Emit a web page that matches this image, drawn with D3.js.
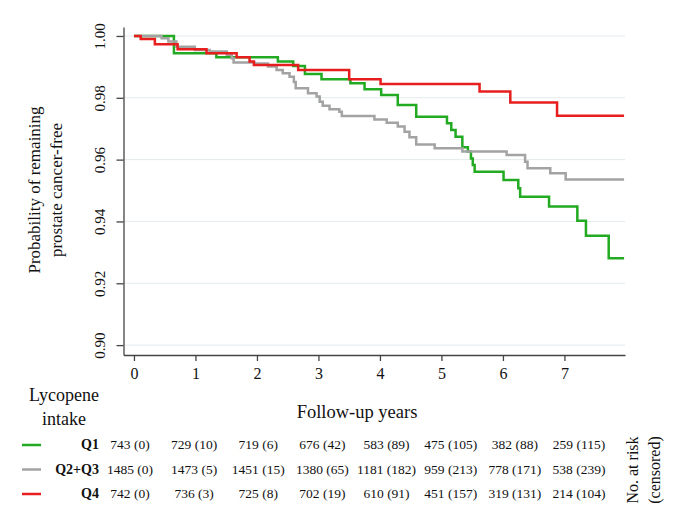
<!DOCTYPE html>
<html>
<head>
<meta charset="utf-8">
<script src="https://cdn.jsdelivr.net/npm/d3@7"></script>
<style>
body{margin:0;background:#fff;}
text{font-family:"Liberation Serif","Times New Roman",serif;fill:#111;}
</style>
</head>
<body>
<div id="chart"></div>
<script>
// Kaplan-Meier steps (years, survival)
const q1Time = [0, 0.65, 1.34, 2.34, 2.59, 2.78, 3.05, 3.52, 3.75, 4.02, 4.29, 4.59, 5.09, 5.16, 5.23, 5.34, 5.43, 5.48, 5.51, 5.54, 6.01, 6.25, 6.28, 6.75, 7.21, 7.35, 7.72, 7.97];
const q1Surv = [1.0, 0.9944, 0.9931, 0.9917, 0.9903, 0.9877, 0.9860, 0.9847, 0.9828, 0.9809, 0.9777, 0.9739, 0.9718, 0.9696, 0.9674, 0.9640, 0.9626, 0.9604, 0.9583, 0.9561, 0.9534, 0.9507, 0.9480, 0.9448, 0.9402, 0.9354, 0.9281, 0.9281];

const q23Time = [0, 0.45, 0.56, 0.69, 0.99, 1.23, 1.51, 1.59, 1.62, 1.96, 2.18, 2.32, 2.42, 2.53, 2.60, 2.63, 2.83, 2.97, 3.02, 3.07, 3.18, 3.34, 3.38, 3.91, 4.11, 4.29, 4.40, 4.48, 4.59, 4.89, 5.34, 6.06, 6.36, 6.40, 6.77, 7.02, 7.97];
const q23Surv = [1.0, 0.9993, 0.9982, 0.9965, 0.9955, 0.9950, 0.9939, 0.9928, 0.9914, 0.9911, 0.9901, 0.9890, 0.9879, 0.9868, 0.9851, 0.9831, 0.9815, 0.9804, 0.9787, 0.9774, 0.9763, 0.9755, 0.9741, 0.9730, 0.9719, 0.9707, 0.9690, 0.9672, 0.9649, 0.9637, 0.9626, 0.9615, 0.9593, 0.9572, 0.9556, 0.9536, 0.9536];

const q4Time = [0, 0.11, 0.34, 0.71, 1.18, 1.67, 1.88, 1.95, 2.67, 3.50, 4.01, 5.62, 6.12, 6.88, 7.97];
const q4Surv = [1.0, 0.9990, 0.9973, 0.9957, 0.9944, 0.9931, 0.9917, 0.9906, 0.9890, 0.9860, 0.9845, 0.9820, 0.9785, 0.9742, 0.9742];

const groups = ["Q1", "Q2+Q3", "Q4"];
const colors = ["#22aa22", "#a3a3a3", "#e61e1e"];
const yTicks = [0.90, 0.92, 0.94, 0.96, 0.98, 1.00];
const xTicks = [0, 1, 2, 3, 4, 5, 6, 7];

// numbers at risk (censored) per year
const q1Risk = ["743 (0)", "729 (10)", "719 (6)", "676 (42)", "583 (89)", "475 (105)", "382 (88)", "259 (115)"];
const q23Risk = ["1485 (0)", "1473 (5)", "1451 (15)", "1380 (65)", "1181 (182)", "959 (213)", "778 (171)", "538 (239)"];
const q4Risk = ["742 (0)", "736 (3)", "725 (8)", "702 (19)", "610 (91)", "451 (157)", "319 (131)", "214 (104)"];

const width = 680, height = 516;

const svg = d3.select("#chart").append("svg")
  .attr("width", width)
  .attr("height", height);

const x = d3.scaleLinear().domain([-0.17, 7.985]).range([123.5, 625]);
const y = d3.scaleLinear().domain([0.8968, 1.0029]).range([355, 27]);

// grid
svg.append("g")
  .selectAll("line")
  .data(yTicks)
  .join("line")
  .attr("x1", x.range()[0])
  .attr("x2", x.range()[1])
  .attr("y1", d => y(d))
  .attr("y2", d => y(d))
  .attr("stroke", "#e4eaee")
  .attr("stroke-width", 1);

const yAxis = svg.append("g")
  .attr("transform", `translate(${x.range()[0]},0)`)
  .call(d3.axisLeft(y).tickValues(yTicks).tickFormat(d3.format(".2f")).tickSize(7).tickSizeOuter(0));

yAxis.selectAll("text")
  .attr("x", 0)
  .attr("y", -19)
  .attr("dy", 0)
  .attr("transform", "rotate(-90)")
  .attr("text-anchor", "middle")
  .style("font-size", "15px");

const xAxis = svg.append("g")
  .attr("transform", `translate(0,${y.range()[0]})`)
  .call(d3.axisBottom(x).tickValues(xTicks).tickFormat(d3.format("d")).tickSize(6).tickSizeOuter(0));

xAxis.selectAll("text")
  .attr("y", 24)
  .attr("dy", 0)
  .style("font-size", "16px");

svg.selectAll(".domain, .tick line").attr("stroke", "#444").attr("stroke-width", 1.3);
svg.selectAll(".tick text").attr("fill", "#111").style("font-family", "Liberation Serif");

// curves
const curves = [
  q1Time.map((t, i) => ({t: t, s: q1Surv[i]})),
  q23Time.map((t, i) => ({t: t, s: q23Surv[i]})),
  q4Time.map((t, i) => ({t: t, s: q4Surv[i]}))
];

const line = d3.line()
  .x(d => x(d.t))
  .y(d => y(d.s))
  .curve(d3.curveStepAfter);

svg.append("g")
  .selectAll("path")
  .data(curves)
  .join("path")
  .attr("d", line)
  .attr("fill", "none")
  .attr("stroke", (d, i) => colors[i])
  .attr("stroke-width", 2.5);

// axis titles
const yTitle = svg.append("text")
  .attr("transform", "translate(40,190) rotate(-90)")
  .attr("text-anchor", "middle")
  .style("font-size", "17px");
yTitle.append("tspan").attr("x", 0).attr("y", 0).text("Probability of remaining");
yTitle.append("tspan").attr("x", 0).attr("y", 22).text("prostate cancer-free");

svg.append("text")
  .attr("x", 357)
  .attr("y", 418)
  .attr("text-anchor", "middle")
  .style("font-size", "18.5px")
  .text("Follow-up years");

svg.append("text")
  .attr("x", 64)
  .attr("y", 401)
  .attr("text-anchor", "middle")
  .style("font-size", "18px")
  .text("Lycopene");

svg.append("text")
  .attr("x", 64)
  .attr("y", 425)
  .attr("text-anchor", "middle")
  .style("font-size", "18px")
  .text("intake");

// risk table
const colX = d3.scaleLinear().domain([0, 7]).range([130, 579]);
const rowY = d3.scalePoint().domain(groups).range([445, 494]);
const riskRows = [q1Risk, q23Risk, q4Risk];

const rows = svg.append("g")
  .selectAll("g")
  .data(groups)
  .join("g")
  .attr("transform", d => `translate(0,${rowY(d)})`);

rows.append("line")
  .attr("x1", 22)
  .attr("x2", 41)
  .attr("stroke", (d, i) => colors[i])
  .attr("stroke-width", 2.5);

rows.append("text")
  .attr("x", 99)
  .attr("dy", "0.3em")
  .attr("text-anchor", "end")
  .style("font-size", "14px")
  .style("font-weight", "bold")
  .text(d => d);

rows.each(function(d, i) {
  d3.select(this).selectAll("text.risk")
    .data(riskRows[i])
    .join("text")
    .attr("class", "risk")
    .attr("x", (v, j) => colX(j))
    .attr("dy", "0.3em")
    .attr("text-anchor", "middle")
    .style("font-size", "13.5px")
    .text(v => v);
});

const riskTitle = svg.append("text")
  .attr("transform", "translate(638,470) rotate(-90)")
  .attr("text-anchor", "middle")
  .style("font-size", "16px");
riskTitle.append("tspan").attr("x", 0).attr("y", 0).text("No. at risk");
riskTitle.append("tspan").attr("x", 0).attr("y", 22).text("(censored)");
</script>
</body>
</html>
